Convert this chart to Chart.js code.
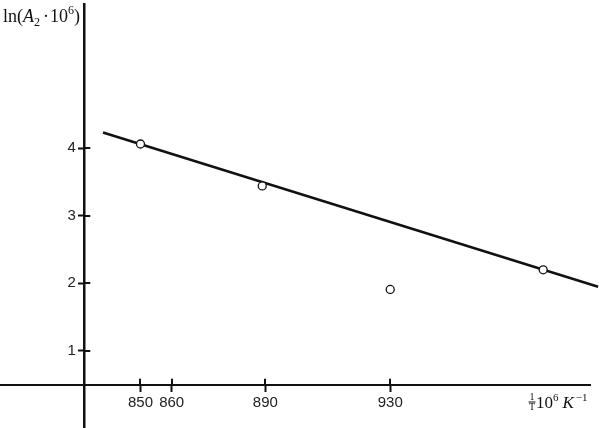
<!DOCTYPE html>
<html>
<head>
<meta charset="utf-8">
<script src="https://cdn.jsdelivr.net/npm/chart.js@4.4.1/dist/chart.umd.min.js"></script>
<style>
  html, body { margin: 0; padding: 0; background: #fff; }
  #wrap { width: 599px; height: 428px; }
</style>
</head>
<body>
<div id="wrap"><canvas id="chart"></canvas></div>
<script>
// measured points: 1/T * 10^6 vs ln(A2 * 10^6)
const invTemp = [850, 889, 930, 979];
const lnA2 = [4.06, 3.44, 1.91, 2.20];

// fitted straight line (two ends)
const fitX = [838, 996.6];
const fitY = [4.23, 1.95];

const xTicks = [850, 860, 890, 930];
const yTicks = [1, 2, 3, 4];

// where the axes cross
const yAxisAtX = 832;
const xAxisAtY = 0.5;

const INK = "#111";
const SANS = "'Liberation Sans', Arial, sans-serif";
const SERIF = "'Liberation Serif', 'Times New Roman', serif";

// tick marks in the reference cross the axis, chart.js only draws the outer half
const crossTicks = {
    id: "crossTicks",
    afterDatasetsDraw(chart) {
        const { ctx, scales: { x, y } } = chart;
        const ax = x.getPixelForValue(yAxisAtX);
        const ay = y.getPixelForValue(xAxisAtY);
        ctx.save();
        ctx.strokeStyle = INK;
        ctx.lineWidth = 2;
        ctx.beginPath();
        yTicks.forEach(v => {
            const py = Math.round(y.getPixelForValue(v));
            ctx.moveTo(ax, py);
            ctx.lineTo(ax + 6, py);
        });
        xTicks.forEach(v => {
            const px = Math.round(x.getPixelForValue(v));
            ctx.moveTo(px, ay);
            ctx.lineTo(px, ay - 6);
        });
        ctx.stroke();
        ctx.restore();
    }
};

function drawParts(ctx, parts, x, y) {
    parts.forEach(p => {
        ctx.font = p.font;
        ctx.fillText(p.text, x, y + (p.dy || 0));
        x += ctx.measureText(p.text).width + (p.gap || 0);
    });
    return x;
}

// axis captions with sub/superscripts
const captions = {
    id: "captions",
    afterDraw(chart) {
        const ctx = chart.ctx;
        ctx.save();
        ctx.fillStyle = INK;
        ctx.textBaseline = "alphabetic";
        ctx.textAlign = "left";

        drawParts(ctx, [
            { text: "ln(", font: `18px ${SERIF}` },
            { text: "A", font: `italic 18px ${SERIF}` },
            { text: "2", font: `12px ${SERIF}`, dy: 4, gap: 3 },
            { text: "·", font: `18px ${SERIF}`, gap: 1 },
            { text: "10", font: `18px ${SERIF}` },
            { text: "6", font: `12px ${SERIF}`, dy: -8 },
            { text: ")", font: `18px ${SERIF}` }
        ], 3, 22);

        // 1/T as a small stacked fraction
        const fx = 532;
        ctx.textAlign = "center";
        ctx.font = `10px ${SERIF}`;
        ctx.fillText("1", fx, 400);
        ctx.fillText("T", fx, 410);
        ctx.fillRect(fx - 3.5, 401.5, 7, 1);
        ctx.textAlign = "left";

        drawParts(ctx, [
            { text: "10", font: `17px ${SERIF}` },
            { text: "6", font: `11px ${SERIF}`, dy: -7, gap: 4 },
            { text: "K", font: `italic 17px ${SERIF}`, gap: 2 },
            { text: "−1", font: `11px ${SERIF}`, dy: -7 }
        ], 536, 408);
        ctx.restore();
    }
};

new Chart(document.getElementById("chart"), {
    type: "scatter",
    data: {
        datasets: [
            {
                label: "measured",
                data: invTemp.map((v, i) => ({ x: v, y: lnA2[i] })),
                showLine: false,
                pointRadius: 4,
                pointBackgroundColor: "#fff",
                pointBorderColor: INK,
                pointBorderWidth: 1.3,
                order: 0
            },
            {
                label: "fit",
                data: fitX.map((v, i) => ({ x: v, y: fitY[i] })),
                showLine: true,
                borderColor: INK,
                borderWidth: 2.5,
                pointRadius: 0,
                clip: false,
                order: 1
            }
        ]
    },
    options: {
        responsive: true,
        maintainAspectRatio: false,
        animation: false,
        layout: { autoPadding: false, padding: { left: 0, right: 9, top: 4, bottom: 0 } },
        plugins: {
            legend: { display: false },
            tooltip: { enabled: false }
        },
        scales: {
            x: {
                type: "linear",
                min: 805,
                max: 994,
                position: { y: xAxisAtY },
                afterBuildTicks: s => { s.ticks = xTicks.map(v => ({ value: v })); },
                grid: { drawOnChartArea: false, drawTicks: true, tickLength: 6, tickWidth: 2, color: INK },
                border: { display: true, color: INK, width: 2 },
                ticks: {
                    color: "#222",
                    font: { family: SANS, size: 15 },
                    padding: 3,
                    autoSkip: false,
                    maxRotation: 0,
                    callback: v => String(v)
                }
            },
            y: {
                type: "linear",
                min: -0.133,
                max: 6.13,
                position: { x: yAxisAtX },
                afterBuildTicks: s => { s.ticks = yTicks.map(v => ({ value: v })); },
                grid: { drawOnChartArea: false, drawTicks: true, tickLength: 5, tickWidth: 2, color: INK },
                border: { display: true, color: INK, width: 2.5 },
                ticks: {
                    color: "#222",
                    font: { family: SANS, size: 15, lineHeight: 0.05 },
                    padding: 0,
                    // labels of an axis placed at a value sit on the axis; a figure space moves them off it
                    callback: v => String(v) + "\u2007"
                }
            }
        }
    },
    plugins: [crossTicks, captions]
});
</script>
</body>
</html>
